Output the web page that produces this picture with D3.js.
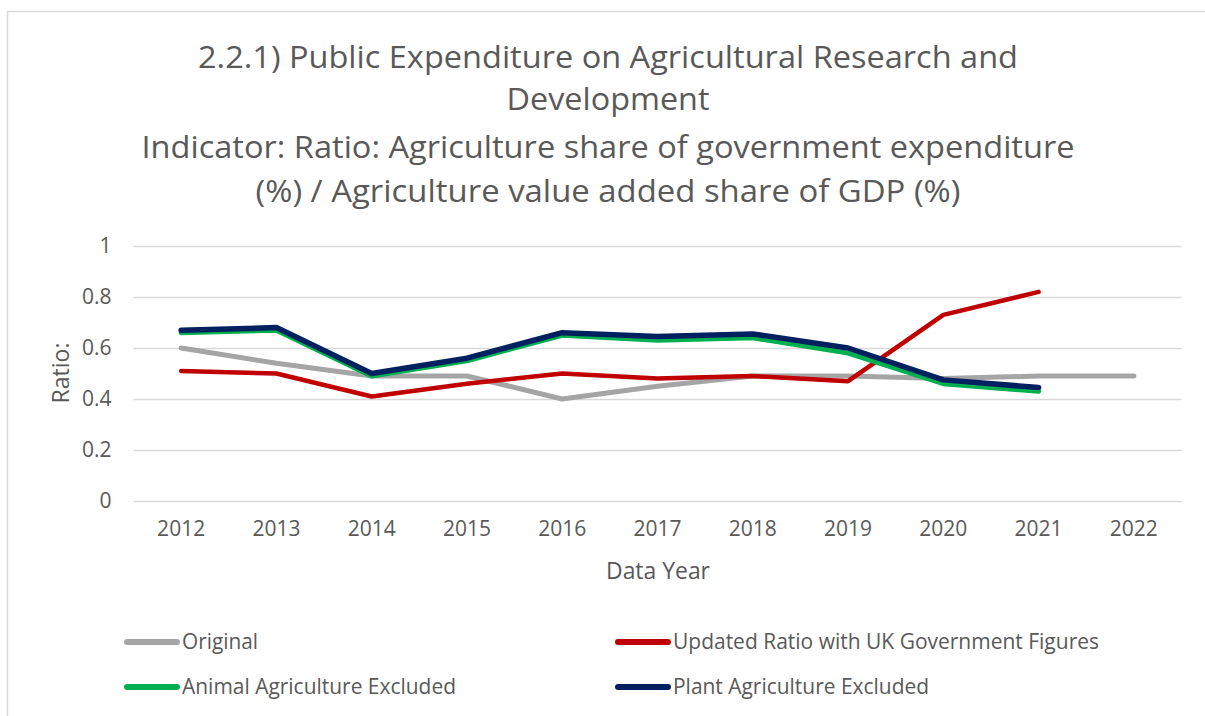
<!DOCTYPE html>
<html>
<head>
<meta charset="utf-8">
<script src="https://cdn.jsdelivr.net/npm/d3@7"></script>
<style>
  html, body { margin: 0; padding: 0; background: #ffffff; }
  svg { display: block; }
  text { font-family: "Open Sans", "Noto Sans", sans-serif; fill: #595959; }
</style>
</head>
<body>
<svg id="chart" width="1205" height="716"></svg>
<script>
// ---- data ----
const years = ["2012", "2013", "2014", "2015", "2016", "2017", "2018", "2019", "2020", "2021", "2022"];
const original = [0.60, 0.54, 0.49, 0.49, 0.40, 0.45, 0.49, 0.49, 0.48, 0.49, 0.49];
const updatedUK = [0.51, 0.50, 0.41, 0.46, 0.50, 0.48, 0.49, 0.47, 0.73, 0.82, null];
const animalExcluded = [0.66, 0.67, 0.49, 0.55, 0.65, 0.63, 0.64, 0.58, 0.46, 0.43, null];
const plantExcluded = [0.67, 0.68, 0.50, 0.56, 0.66, 0.645, 0.655, 0.60, 0.475, 0.445, null];
const yTicks = [0, 0.2, 0.4, 0.6, 0.8, 1];
const seriesNames = ["Original", "Updated Ratio with UK Government Figures", "Animal Agriculture Excluded", "Plant Agriculture Excluded"];
const titleLines = [
  "2.2.1) Public Expenditure on Agricultural Research and",
  "Development",
  "Indicator: Ratio: Agriculture share of government expenditure",
  "(%) / Agriculture value added share of GDP (%)"
];

// ---- styling per series ----
const seriesStyle = [
  { color: "#a5a5a5", width: 5 },
  { color: "#c00000", width: 4.5 },
  { color: "#00b050", width: 5 },
  { color: "#002060", width: 5.5 }
];
const seriesValues = [original, updatedUK, animalExcluded, plantExcluded];

const svg = d3.select("#chart");

// squeeze a text element to a given width (narrow glyphs)
function fit(sel, w) {
  sel.attr("textLength", w).attr("lengthAdjust", "spacingAndGlyphs");
  return sel;
}

// chart frame
svg.append("rect")
  .attr("x", 7.5).attr("y", 11.5)
  .attr("width", 1230).attr("height", 760)
  .attr("fill", "#ffffff")
  .attr("stroke", "#d9d9d9").attr("stroke-width", 1.5);

// ---- title ----
const titleY = [68, 110, 158, 202];
const titleW = [820, 203, 933, 705];
titleLines.forEach((t, i) => {
  svg.append("text")
    .attr("x", 608).attr("y", titleY[i])
    .attr("text-anchor", "middle")
    .attr("font-size", 31)
    .text(t)
    .call(fit, titleW[i]);
});

// ---- scales ----
const x = d3.scaleBand().domain(years).range([133.5, 1181.5]).padding(0);
const y = d3.scaleLinear().domain([0, 1]).range([501, 246]);
const cx = d => x(d) + x.bandwidth() / 2;

// gridlines + y labels
const yAxis = d3.axisLeft(y)
  .tickValues(yTicks)
  .tickSize(-(1181.5 - 133.5))
  .tickPadding(22)
  .tickFormat(d => d === 0 ? "0" : d === 1 ? "1" : d3.format(".1f")(d));

const gy = svg.append("g").attr("transform", "translate(133.5,0)").call(yAxis);
gy.select(".domain").remove();
gy.selectAll(".tick line").attr("stroke", "#d9d9d9").attr("stroke-width", 1.5);
gy.selectAll(".tick text")
  .attr("font-size", 21)
  .attr("fill", "#595959")
  .style("font-family", "'Open Sans', sans-serif");

// x labels
const xAxis = d3.axisBottom(x).tickSize(0).tickPadding(0);
const gx = svg.append("g").attr("transform", "translate(0,519)").call(xAxis);
gx.select(".domain").remove();
gx.selectAll(".tick text")
  .attr("font-size", 21)
  .attr("fill", "#595959")
  .attr("dy", "0.8em")
  .style("font-family", "'Open Sans', sans-serif");

// axis titles
svg.append("text")
  .attr("transform", "translate(69,373) rotate(-90)")
  .attr("text-anchor", "middle")
  .attr("font-size", 23)
  .text("Ratio:");

svg.append("text")
  .attr("x", 658).attr("y", 579)
  .attr("text-anchor", "middle")
  .attr("font-size", 23)
  .text("Data Year")
  .call(fit, 104);

// ---- lines ----
const line = d3.line()
  .defined(d => d.v != null)
  .x(d => cx(d.year))
  .y(d => y(d.v));

seriesValues.forEach((vals, i) => {
  const pts = years.map((yr, j) => ({ year: yr, v: vals[j] }));
  svg.append("path")
    .datum(pts)
    .attr("d", line)
    .attr("fill", "none")
    .attr("stroke", seriesStyle[i].color)
    .attr("stroke-width", seriesStyle[i].width)
    .attr("stroke-linejoin", "round")
    .attr("stroke-linecap", "round");
});

// ---- legend ----
const legendPos = [
  { x: 124, y: 642, w: 76 },
  { x: 615, y: 642, w: 426 },
  { x: 124, y: 687, w: 274 },
  { x: 615, y: 687, w: 256 }
];
seriesNames.forEach((name, i) => {
  const p = legendPos[i];
  const g = svg.append("g");
  g.append("line")
    .attr("x1", p.x + 3).attr("x2", p.x + 53)
    .attr("y1", p.y).attr("y2", p.y)
    .attr("stroke", seriesStyle[i].color)
    .attr("stroke-width", 6)
    .attr("stroke-linecap", "round");
  g.append("text")
    .attr("x", p.x + 58).attr("y", p.y + 7)
    .attr("font-size", 21)
    .text(name)
    .call(fit, p.w);
});
</script>
</body>
</html>
